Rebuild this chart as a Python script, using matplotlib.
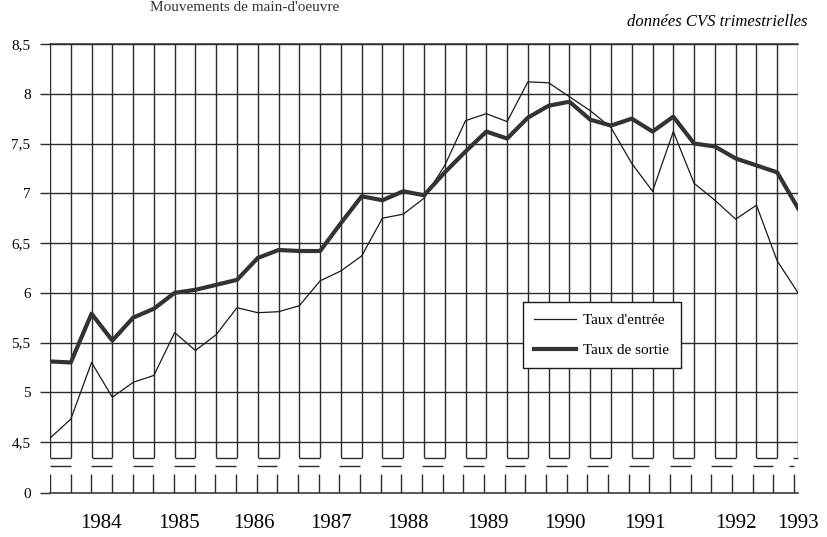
import matplotlib
matplotlib.use("Agg")
import matplotlib.pyplot as plt
import numpy as np

plt.rcParams["font.family"] = ["Liberation Serif", "DejaVu Serif"]

# quarterly points, 1984 Q1 -> 1993 Q1
quarters = list(range(37))
taux_entree = [4.54, 4.73, 5.30, 4.95, 5.10, 5.17, 5.60, 5.42, 5.58, 5.85,
               5.80, 5.81, 5.87, 6.12, 6.22, 6.37, 6.75, 6.79, 6.95, 7.28,
               7.73, 7.80, 7.72, 8.12, 8.11, 7.97, 7.83, 7.66, 7.30, 7.02,
               7.62, 7.10, 6.93, 6.74, 6.88, 6.32, 6.00]
taux_sortie = [5.31, 5.30, 5.79, 5.52, 5.75, 5.84, 6.00, 6.03, 6.08, 6.13,
               6.35, 6.43, 6.42, 6.42, 6.70, 6.97, 6.93, 7.02, 6.98, 7.21,
               7.42, 7.62, 7.55, 7.76, 7.88, 7.92, 7.74, 7.68, 7.75, 7.62,
               7.77, 7.50, 7.47, 7.35, 7.28, 7.21, 6.85]
year_labels = ["1984", "1985", "1986", "1987", "1988", "1989", "1990", "1991", "1992", "1993"]
year_pos = [2.45, 6.26, 9.87, 13.6, 17.3, 21.2, 24.9, 28.8, 33.2, 36.2]
y_ticks = [4.5, 5, 5.5, 6, 6.5, 7, 7.5, 8, 8.5]
y_ticklabels = ["4,5", "5", "5,5", "6", "6,5", "7", "7,5", "8", "8,5"]

ink = "#2b2b2b"
fig = plt.figure(figsize=(8.28, 5.37), dpi=100)

# upper part (4,5 - 8,5)
ax = fig.add_axes([50 / 828, 1 - 458 / 537, 748 / 828, 414 / 537])
ax.set_xlim(0, 36)
ax.set_ylim(4.34, 8.5)
for s in ["left", "right", "bottom"]:
    ax.spines[s].set_visible(False)
ax.spines["top"].set_color(ink)
ax.spines["top"].set_linewidth(1.1)
ax.vlines(quarters, 4.34, 8.5, color=ink, lw=1.0)
ax.hlines(y_ticks, 0, 36, color=ink, lw=1.0)
# break marks: pairs of gridlines joined
ax.hlines([4.34] * 18, quarters[0:36:2], quarters[1:37:2], color=ink, lw=1.0, clip_on=False)
ax.hlines(4.34, 35.75, 36, color=ink, lw=1.0, clip_on=False)
ax.set_yticks(y_ticks)
ax.set_yticklabels(y_ticklabels, fontsize=11)
ax.tick_params(axis="y", length=7, width=1.0, color=ink, pad=7)
ax.set_xticks([])

ax.plot(quarters, taux_entree, color="#1a1a1a", lw=0.9, label="Taux d'entrée")
ax.plot(quarters, taux_sortie, color="#333333", lw=3.0, label="Taux de sortie")

leg = ax.legend(loc="upper left", bbox_to_anchor=(523 / 828, 1 - 302 / 537),
                bbox_transform=fig.transFigure, borderaxespad=0, fancybox=False,
                edgecolor="#1a1a1a", framealpha=1, fontsize=11, handlelength=2.7,
                handletextpad=0.5, labelspacing=1.05, borderpad=0.75)
leg.get_frame().set_linewidth(1.0)

# lower part (0)
ax0 = fig.add_axes([50 / 828, 1 - 493 / 537, 748 / 828, 27 / 537])
ax0.set_xlim(0, 36)
ax0.set_ylim(0, 0.27)
for s in ["left", "right", "top"]:
    ax0.spines[s].set_visible(False)
ax0.spines["bottom"].set_color(ink)
ax0.spines["bottom"].set_linewidth(1.1)
ax0.vlines(quarters, 0, 0.19, color=ink, lw=1.0)
ax0.hlines([0.27] * 18, quarters[0:36:2], quarters[1:37:2], color=ink, lw=1.0, clip_on=False)
ax0.hlines(0.27, 35.75, 36, color=ink, lw=1.0, clip_on=False)
ax0.set_yticks([0])
ax0.set_yticklabels(["0"], fontsize=11)
ax0.tick_params(axis="y", length=7, width=1.0, color=ink, pad=7)
ax0.set_xticks(year_pos)
ax0.set_xticklabels(year_labels, fontsize=15)
ax0.tick_params(axis="x", length=0, pad=15)

fig.text(808 / 828, 1 - 22 / 537, "données CVS trimestrielles", ha="right", va="center",
         fontsize=12, style="italic")
fig.text(150 / 828, 1 - 1 / 537, "Mouvements de main-d'oeuvre", ha="left", va="top",
         fontsize=11, color="#333333")

fig.savefig("out.png", dpi=100)
